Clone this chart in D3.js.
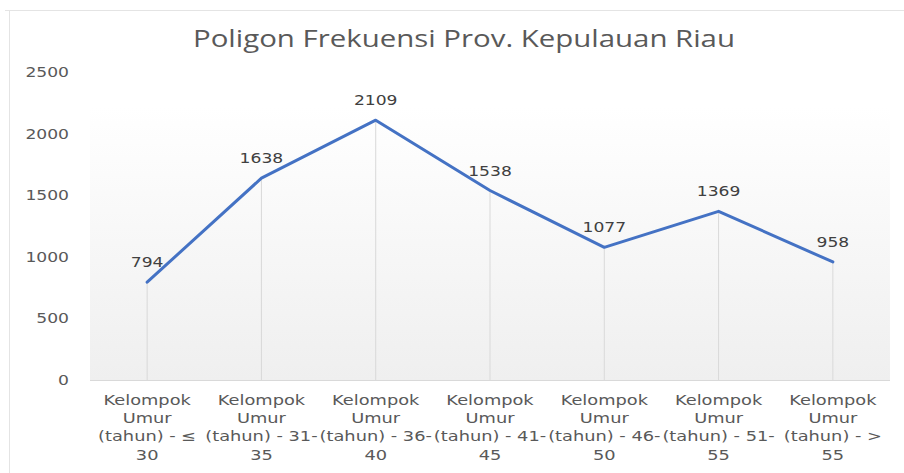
<!DOCTYPE html>
<html>
<head>
<meta charset="utf-8">
<script src="https://d3js.org/d3.v7.min.js"></script>
<style>
body, html {
  margin: 0;
  background: #fff;
}
.tick text, .lbl {
  font-family: "DejaVu Sans";
}
</style>
</head>
<body>
<div id="chart"></div>
<script>

var title = "Poligon Frekuensi Prov. Kepulauan Riau";
var categories = [
  "Kelompok Umur (tahun) - ≤ 30",
  "Kelompok Umur (tahun) - 31-35",
  "Kelompok Umur (tahun) - 36-40",
  "Kelompok Umur (tahun) - 41-45",
  "Kelompok Umur (tahun) - 46-50",
  "Kelompok Umur (tahun) - 51-55",
  "Kelompok Umur (tahun) - > 55"
];
// how excel wrapped the category text
var categoryLines = [
  ["Kelompok", "Umur", "(tahun) - ≤", "30"],
  ["Kelompok", "Umur", "(tahun) - 31-", "35"],
  ["Kelompok", "Umur", "(tahun) - 36-", "40"],
  ["Kelompok", "Umur", "(tahun) - 41-", "45"],
  ["Kelompok", "Umur", "(tahun) - 46-", "50"],
  ["Kelompok", "Umur", "(tahun) - 51-", "55"],
  ["Kelompok", "Umur", "(tahun) - >", "55"]
];
var values = [794, 1638, 2109, 1538, 1077, 1369, 958];
var yTicks = [0, 500, 1000, 1500, 2000, 2500];

var width = 904, height = 473;
var sx = 1.27; // text in the picture is stretched sideways
var plot = {left: 90, right: 890, top: 107, bottom: 380};

var svg = d3.select("#chart").append("svg")
  .attr("width", width)
  .attr("height", height);

var defs = svg.append("defs");
var grad = defs.append("linearGradient")
  .attr("id", "bg")
  .attr("x1", 0).attr("y1", 0).attr("x2", 0).attr("y2", 1);
grad.append("stop").attr("offset", "0%").attr("stop-color", "#ffffff");
grad.append("stop").attr("offset", "100%").attr("stop-color", "#efefef");

// chart border (only top and left show in the picture)
svg.append("line")
  .attr("x1", 5).attr("x2", width).attr("y1", 10.5).attr("y2", 10.5)
  .attr("stroke", "#e4e4e4");
svg.append("line")
  .attr("x1", 9.5).attr("x2", 9.5).attr("y1", 10).attr("y2", height)
  .attr("stroke", "#e4e4e4");

var x = d3.scaleBand()
  .domain(categories)
  .range([plot.left, plot.right]);

var y = d3.scaleLinear()
  .domain([0, 2500])
  .range([plot.bottom, 72]);

svg.append("rect")
  .attr("x", plot.left)
  .attr("y", plot.top)
  .attr("width", plot.right - plot.left)
  .attr("height", plot.bottom - plot.top)
  .attr("fill", "url(#bg)");

function cx(d, i) { return x(categories[i]) + x.bandwidth() / 2; }

// drop lines
svg.append("g").selectAll("line")
  .data(values)
  .join("line")
  .attr("x1", cx).attr("x2", cx)
  .attr("y1", function(d) { return y(d); })
  .attr("y2", y(0))
  .attr("stroke", "#d9d9d9")
  .attr("stroke-width", 1);

// y axis labels
var yAxis = svg.append("g");
yAxis.selectAll("text")
  .data(yTicks)
  .join("text")
  .attr("class", "lbl")
  .attr("text-anchor", "end")
  .attr("font-size", 13.5)
  .attr("fill", "#595959")
  .attr("transform", function(d) { return "translate(69," + (y(d) + 5) + ") scale(" + sx + ",1)"; })
  .text(function(d) { return d; });

// x axis line
svg.append("line")
  .attr("x1", plot.left).attr("x2", plot.right)
  .attr("y1", y(0) + 0.5).attr("y2", y(0) + 0.5)
  .attr("stroke", "#d9d9d9");

// category labels
var cat = svg.append("g").selectAll("g")
  .data(categoryLines)
  .join("g")
  .attr("transform", function(d, i) { return "translate(" + cx(d, i) + ",405) scale(" + sx + ",1)"; });
cat.selectAll("text")
  .data(function(d) { return d; })
  .join("text")
  .attr("class", "lbl")
  .attr("text-anchor", "middle")
  .attr("font-size", 14)
  .attr("fill", "#595959")
  .attr("y", function(d, j) { return j * 18.2; })
  .text(function(d) { return d; });

// the line
var line = d3.line()
  .x(function(d, i) { return cx(d, i); })
  .y(function(d) { return y(d); });

svg.append("path")
  .datum(values)
  .attr("d", line)
  .attr("fill", "none")
  .attr("stroke", "#4472c4")
  .attr("stroke-width", 3)
  .attr("stroke-linejoin", "round")
  .attr("stroke-linecap", "round");

// data labels
svg.append("g").selectAll("text")
  .data(values)
  .join("text")
  .attr("class", "lbl")
  .attr("text-anchor", "middle")
  .attr("font-size", 13.5)
  .attr("fill", "#404040")
  .attr("transform", function(d, i) { return "translate(" + cx(d, i) + "," + (y(d) - 15) + ") scale(" + sx + ",1)"; })
  .text(function(d) { return d; });

// title
svg.append("text")
  .attr("x", 464)
  .attr("y", 47)
  .attr("text-anchor", "middle")
  .attr("font-family", "'Open Sans'")
  .attr("font-size", 23)
  .attr("fill", "#595959")
  .attr("textLength", 542)
  .attr("lengthAdjust", "spacingAndGlyphs")
  .text(title);

</script>
</body>
</html>
